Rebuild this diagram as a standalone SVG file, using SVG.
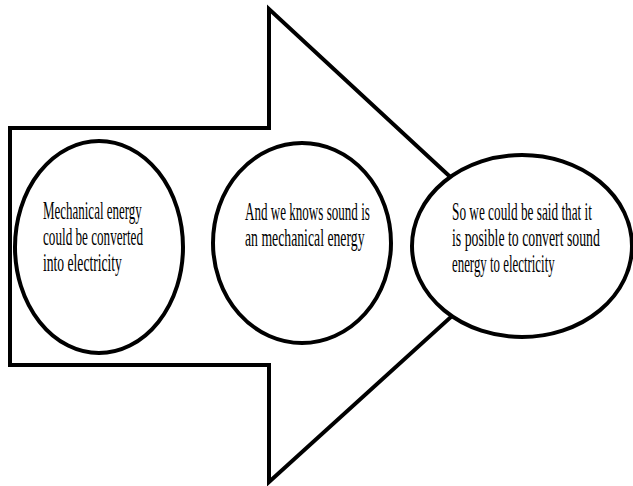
<svg xmlns="http://www.w3.org/2000/svg" width="633" height="486" viewBox="0 0 633 486">
<style>
.shape{fill:#fff;stroke:#000;stroke-width:4;stroke-linejoin:miter}
.t{font-family:"Liberation Serif","Times New Roman",serif;font-size:25px;fill:#000}
</style>
<rect width="633" height="486" fill="#fff"/>
<g id="arrow">
<path class="shape" d="M10,128 L269,128 L269,9 L527,248 L269,482 L269,365 L10,365 Z"/>
</g>
<g id="node1">
<ellipse class="shape" cx="99" cy="247" rx="84" ry="106"/>
<text class="t" transform="translate(43,219) scale(0.519,1)">Mechanical energy</text>
<text class="t" transform="translate(43,245) scale(0.526,1)">could be converted</text>
<text class="t" transform="translate(43,271) scale(0.544,1)">into electricity</text>
</g>
<g id="node2">
<ellipse class="shape" cx="302" cy="243" rx="89" ry="100"/>
<text class="t" transform="translate(245,220) scale(0.523,1)">And we knows sound is</text>
<text class="t" transform="translate(245,246) scale(0.55,1)">an mechanical energy</text>
</g>
<g id="node3">
<ellipse class="shape" cx="522" cy="246" rx="110" ry="91"/>
<text class="t" transform="translate(452,220) scale(0.531,1)">So we could be said that it</text>
<text class="t" transform="translate(452,246) scale(0.552,1)">is posible to convert sound</text>
<text class="t" transform="translate(452,272) scale(0.515,1)">energy to electricity</text>
</g>
</svg>
